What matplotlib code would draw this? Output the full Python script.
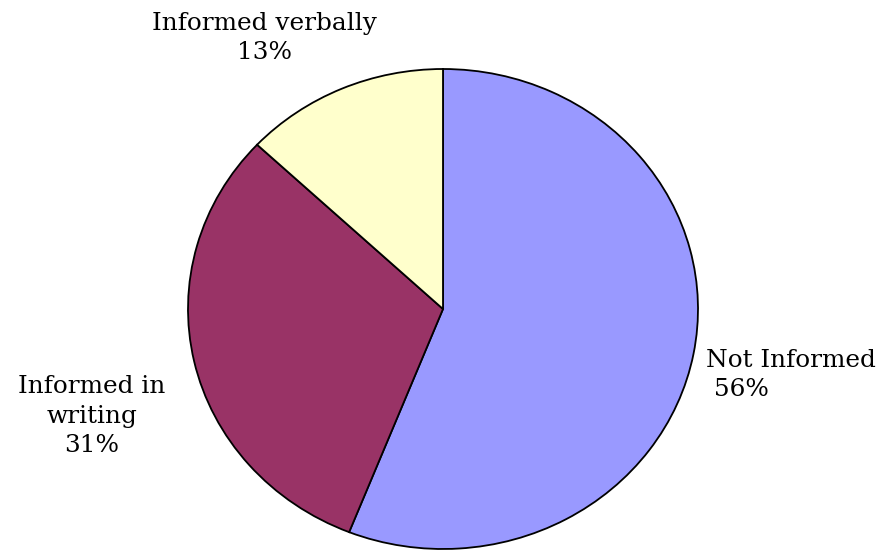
import matplotlib
matplotlib.use("Agg")
import matplotlib.pyplot as plt

# data
labels = ["Not Informed", "Informed in\nwriting", "Informed verbally"]
shares = [56, 31, 13]
colors = ["#9999FF", "#993366", "#FFFFCC"]

W, H = 887, 552
fig = plt.figure(figsize=(W / 100, H / 100), dpi=100)

# pie ellipse: centre (443, 309) px, radii 255 x 240 px
cx, cy, rx, ry = 443, 309, 255, 240
ax = fig.add_axes([(cx - rx) / W, (H - cy - ry) / H, 2 * rx / W, 2 * ry / H])
ax.pie(shares, colors=colors, startangle=90, counterclock=False,
       wedgeprops=dict(edgecolor="black", linewidth=1.3))
ax.set_aspect("auto")
ax.set_xlim(-1, 1)
ax.set_ylim(-1, 1)
ax.axis("off")

font = dict(family="DejaVu Serif", fontsize=17.8, color="black")
fig.text(706 / W, 1 - 375 / H, f"{labels[0]}\n {shares[0]}%", ha="left", va="center",
         multialignment="left", linespacing=1.38, **font)
fig.text(92 / W, 1 - 416 / H, f"{labels[1]}\n{shares[1]}%", ha="center", va="center",
         multialignment="center", linespacing=1.38, **font)
fig.text(264 / W, 1 - 38 / H, f"{labels[2]}\n{shares[2]}%", ha="center", va="center",
         multialignment="center", linespacing=1.38, **font)

fig.savefig("out.png", dpi=100)
